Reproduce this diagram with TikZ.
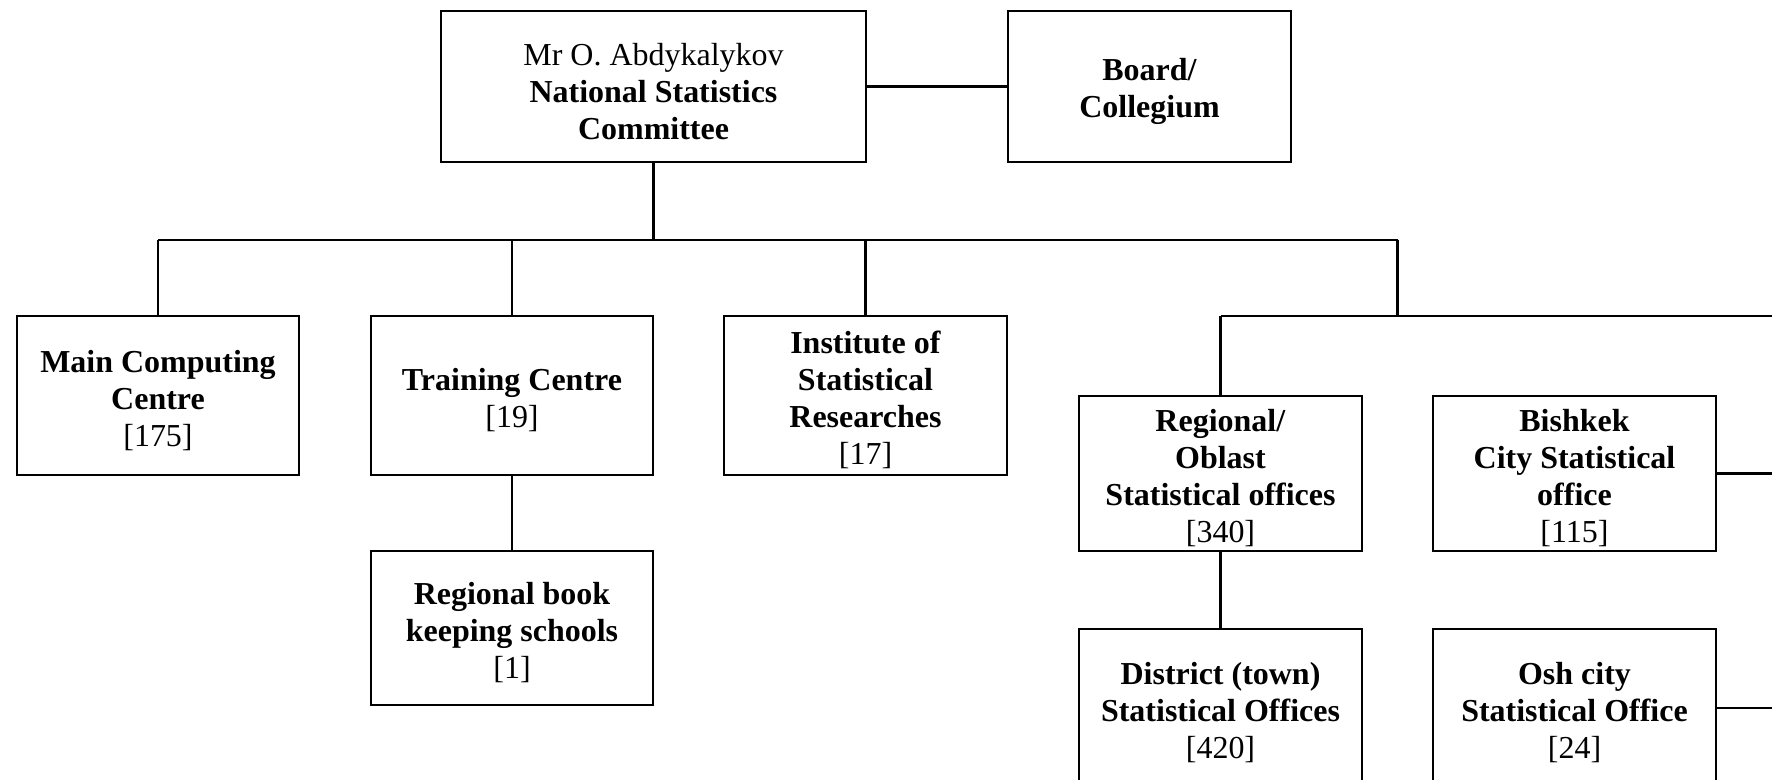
\documentclass[tikz,border=0pt]{standalone}
\usepackage{fontspec}
\setmainfont{Liberation Serif}
\usetikzlibrary{positioning,calc}
\newcommand{\boxstrut}{\rule{0pt}{9pt}}

\begin{document}
\begin{tikzpicture}[
    box/.style={rectangle, draw, line width=0.7pt, outer sep=0pt, minimum width=2.83cm, minimum height=1.55cm, inner sep=1pt, align=center, font=\fontsize{9.1}{10.5}\selectfont},
    unit/.style={box, minimum width=2.82cm, minimum height=1.59cm},
    line/.style={line width=0.7pt}
]
\useasboundingbox (0,0) rectangle (17.72,-7.80);
\clip (0,0) rectangle (17.72,-7.80);
\fill[white] (0,0) rectangle (17.72,-7.80);

% Nodes
\node[box, minimum width=4.25cm, minimum height=1.51cm] (nsc) at (6.535,-0.865) {\boxstrut Mr O. Abdykalykov\\\textbf{National Statistics}\\\textbf{Committee}};
\node[box, minimum height=1.51cm, right=1.42cm of nsc] (board) {\boxstrut\textbf{Board/}\\\textbf{Collegium}};
\node[unit] (mcc) at (1.58,-3.955) {\boxstrut\textbf{Main Computing}\\\textbf{Centre}\\{[175]}};
\node[unit, right=0.72cm of mcc] (tc) {\boxstrut\textbf{Training Centre}\\{[19]}};
\node[unit, minimum width=2.83cm, right=0.71cm of tc] (isr) {\boxstrut\textbf{Institute of}\\\textbf{Statistical}\\\textbf{Researches}\\{[17]}};
\node[box, minimum width=2.82cm, minimum height=1.54cm, below=0.76cm of tc] (rbs) {\boxstrut\textbf{Regional book}\\\textbf{keeping schools}\\{[1]}};
\node[box] (reg) at (12.205,-4.735) {\boxstrut\textbf{Regional/}\\\textbf{Oblast}\\\textbf{Statistical offices}\\{[340]}};
\node[box, right=0.71cm of reg] (bsc) {\boxstrut\textbf{Bishkek}\\\textbf{City Statistical}\\\textbf{office}\\{[115]}};
\node[box, minimum height=1.58cm, below=0.78cm of reg] (dso) {\boxstrut\textbf{District (town)}\\\textbf{Statistical Offices}\\{[420]}};
\node[box, minimum height=1.58cm, below=0.78cm of bsc] (osh) {\boxstrut\textbf{Osh city}\\\textbf{Statistical Office}\\{[24]}};

\coordinate (bus) at (0,-2.40);
\coordinate (split) at ($(reg.east)!0.5!(bsc.west)$);
\coordinate (edge) at (17.72,0);

% Lines
\draw[line] (nsc) -- (board);
\draw[line] (nsc.south) -- (nsc.south |- bus);
\draw[line] (mcc.north |- bus) -- (split |- bus);
\draw[line] (mcc.north |- bus) -- (mcc.north);
\draw[line] (tc.north |- bus) -- (tc.north);
\draw[line] (isr.north |- bus) -- (isr.north);
\draw[line] (split |- bus) -- (split |- mcc.north);
\draw[line] (reg.north |- mcc.north) -- (edge |- mcc.north);
\draw[line] (reg.north |- mcc.north) -- (reg.north);
\draw[line] (tc) -- (rbs);
\draw[line] (reg) -- (dso);
\draw[line] (bsc.east) -- (edge |- bsc.east);
\draw[line] (osh.east) -- (edge |- osh.east);

\end{tikzpicture}
\end{document}
